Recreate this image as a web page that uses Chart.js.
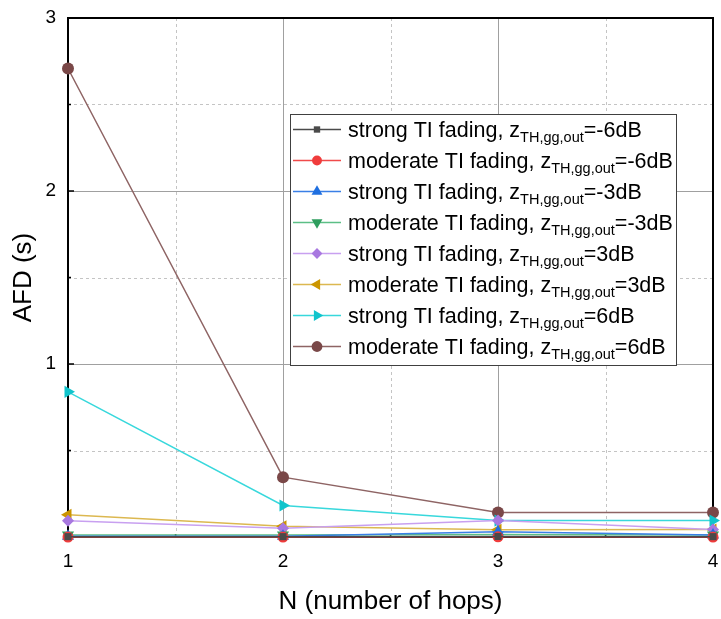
<!DOCTYPE html>
<html>
<head>
<meta charset="utf-8">
<script src="https://cdn.jsdelivr.net/npm/chart.js@4.4.0/dist/chart.umd.min.js"></script>
<style>
  body { margin: 0; background: #fff; }
  #wrap { width: 721px; height: 619px; }
</style>
</head>
<body>
<div id="wrap"><canvas id="afd-chart" width="721" height="619"></canvas></div>
<script>
// hops on the x axis
var hops = [1, 2, 3, 4];

// AFD values (s)
var strongM6   = [0.002, 0.002, 0.003, 0.002];
var moderateM6 = [0.000, 0.000, 0.001, 0.000];
var strongM3   = [0.004, 0.004, 0.030, 0.012];
var moderateM3 = [0.011, 0.011, 0.014, 0.011];
var strongP3   = [0.094, 0.051, 0.095, 0.043];
var moderateP3 = [0.128, 0.062, 0.042, 0.043];
var strongP6   = [0.839, 0.182, 0.095, 0.095];
var moderateP6 = [2.708, 0.346, 0.142, 0.142];

var fadingNames = ['strong TI fading', 'moderate TI fading', 'strong TI fading', 'moderate TI fading',
                   'strong TI fading', 'moderate TI fading', 'strong TI fading', 'moderate TI fading'];
var thresholds = ['-6dB', '-6dB', '-3dB', '-3dB', '3dB', '3dB', '6dB', '6dB'];

var FONT = "'Liberation Sans', Arial, sans-serif";

function series(i, values, line, marker, style, rotation, radius) {
    return {
        label: fadingNames[i] + ', z_TH,gg,out=' + thresholds[i],
        data: values,
        borderColor: line,
        backgroundColor: marker,
        pointBackgroundColor: marker,
        pointBorderColor: marker,
        pointStyle: style,
        pointRotation: rotation,
        pointRadius: radius,
        pointBorderWidth: 0,
        borderWidth: 1.5,
        tension: 0,
        clip: false
    };
}

var datasets = [
    series(0, strongM6,   '#4a4a4a', '#4a4a4a', 'rect', 0, 5),
    series(1, moderateM6, '#f04a4a', '#f03c3c', 'circle', 0, 5.5),
    series(2, strongM3,   '#3a7fe6', '#1f6fe0', 'triangle', 0, 7),
    series(3, moderateM3, '#5cbf86', '#2f9e5e', 'triangle', 180, 7),
    series(4, strongP3,   '#c8a0f0', '#a878e0', 'rectRot', 0, 6),
    series(5, moderateP3, '#dcb850', '#cc9600', 'triangle', -90, 7),
    series(6, strongP6,   '#38d8dc', '#10c4cc', 'triangle', 90, 7),
    series(7, moderateP6, '#8e6464', '#7a4848', 'circle', 0, 6)
];

// dashed minor grid, frame and inward ticks
var framePlugin = {
    id: 'frame',
    beforeDatasetsDraw: function(chart) {
        var ctx = chart.ctx, a = chart.chartArea;
        var xs = chart.scales.x, ys = chart.scales.y;
        var v, p;
        ctx.save();
        ctx.strokeStyle = '#c4c4c4';
        ctx.lineWidth = 1;
        ctx.setLineDash([3, 3]);
        for (v = xs.min + 0.5; v < xs.max; v += 1) {
            p = Math.round(xs.getPixelForValue(v)) + 0.5;
            ctx.beginPath(); ctx.moveTo(p, a.top); ctx.lineTo(p, a.bottom); ctx.stroke();
        }
        for (v = ys.min + 0.5; v < ys.max; v += 1) {
            p = Math.round(ys.getPixelForValue(v)) + 0.5;
            ctx.beginPath(); ctx.moveTo(a.left, p); ctx.lineTo(a.right, p); ctx.stroke();
        }
        ctx.setLineDash([]);
        ctx.strokeStyle = '#000';
        ctx.lineWidth = 1.5;
        for (v = xs.min; v <= xs.max + 1e-9; v += 0.5) {
            p = xs.getPixelForValue(v);
            var len = (v % 1 === 0) ? 6 : 3;
            ctx.beginPath(); ctx.moveTo(p, a.bottom); ctx.lineTo(p, a.bottom - len); ctx.stroke();
        }
        for (v = ys.min; v <= ys.max + 1e-9; v += 0.5) {
            p = ys.getPixelForValue(v);
            var l2 = (v % 1 === 0) ? 6 : 3;
            ctx.beginPath(); ctx.moveTo(a.left, p); ctx.lineTo(a.left + l2, p); ctx.stroke();
        }
        ctx.lineWidth = 2;
        ctx.strokeRect(a.left, a.top, a.right - a.left, a.bottom - a.top);
        ctx.restore();
    }
};

// legend with subscripts
var legendPlugin = {
    id: 'subLegend',
    afterDraw: function(chart) {
        var ctx = chart.ctx;
        var box = { x: 290, y: 114, w: 386, h: 251 };
        var rowH = 31.0, firstRow = 129.5;
        ctx.save();
        ctx.fillStyle = '#fff';
        ctx.fillRect(box.x, box.y, box.w, box.h);
        ctx.strokeStyle = '#404040';
        ctx.lineWidth = 1;
        ctx.strokeRect(box.x + 0.5, box.y + 0.5, box.w, box.h);
        chart.data.datasets.forEach(function(ds, i) {
            var cy = firstRow + i * rowH;
            ctx.strokeStyle = ds.borderColor;
            ctx.lineWidth = 1.5;
            ctx.beginPath(); ctx.moveTo(293, cy); ctx.lineTo(341, cy); ctx.stroke();
            ctx.fillStyle = ds.pointBackgroundColor;
            Chart.helpers.drawPoint(ctx, {
                pointStyle: ds.pointStyle, rotation: ds.pointRotation,
                radius: ds.pointRadius * 0.9, borderWidth: 0
            }, 317, cy);
            ctx.fillStyle = '#000';
            ctx.textBaseline = 'alphabetic';
            var base = cy + 7.5;
            var x = 348;
            ctx.font = '21.5px ' + FONT;
            var t1 = fadingNames[i] + ', z';
            ctx.fillText(t1, x, base);
            x += ctx.measureText(t1).width;
            ctx.font = '14.5px ' + FONT;
            var sub = 'TH,gg,out';
            ctx.fillText(sub, x, base + 5);
            x += ctx.measureText(sub).width;
            ctx.font = '21.5px ' + FONT;
            ctx.fillText('=' + thresholds[i], x, base);
        });
        ctx.restore();
    }
};

var ctx = document.getElementById('afd-chart').getContext('2d');
var chart = new Chart(ctx, {
    type: 'line',
    data: {
        labels: hops,
        datasets: datasets
    },
    options: {
        responsive: false,
        animation: false,
        layout: { padding: { top: 18, right: 8, left: 0, bottom: 0 } },
        plugins: {
            legend: { display: false },
            tooltip: { enabled: false }
        },
        scales: {
            x: {
                type: 'linear',
                min: 1, max: 4,
                afterFit: function(s) {
                    s.height = 82;
                    s.paddingLeft = 0;
                    s.paddingRight = 0;
                },
                ticks: {
                    stepSize: 1,
                    padding: 13,
                    color: '#000',
                    font: { family: FONT, size: 19 }
                },
                grid: { color: '#a0a0a0', lineWidth: 1, drawTicks: false },
                border: { display: false },
                title: {
                    display: true,
                    text: 'N (number of hops)',
                    color: '#000',
                    font: { family: FONT, size: 26 },
                    padding: { top: 0, bottom: 2 }
                }
            },
            y: {
                type: 'linear',
                min: 0, max: 3,
                afterFit: function(s) {
                    s.width = 68;
                    s.paddingTop = 0;
                    s.paddingBottom = 0;
                },
                ticks: {
                    stepSize: 1,
                    padding: 12,
                    color: '#000',
                    font: { family: FONT, size: 19 },
                    callback: function(v) { return v === 0 ? '' : v; }
                },
                grid: { color: '#a0a0a0', lineWidth: 1, drawTicks: false },
                border: { display: false },
                title: {
                    display: true,
                    text: 'AFD (s)',
                    color: '#000',
                    font: { family: FONT, size: 26 },
                    padding: { top: 8, bottom: 0 }
                }
            }
        }
    },
    plugins: [framePlugin, legendPlugin]
});
</script>
</body>
</html>
